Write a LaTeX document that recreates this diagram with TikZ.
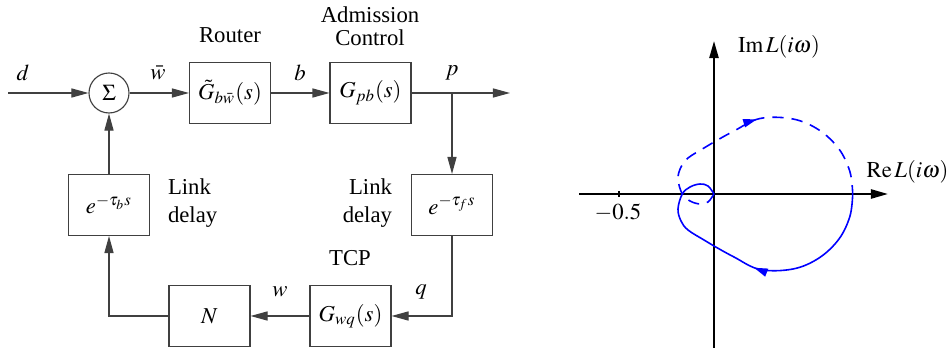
\documentclass[tikz,border=0pt]{standalone}
\usepackage{mathptmx}
\usepackage[no-math]{fontspec}
\setmainfont{Liberation Serif}
\usepackage{tikz}
\usetikzlibrary{arrows.meta,calc,positioning,decorations.markings}

\begin{document}
\begin{tikzpicture}[
  x=0.44pt, y=-0.44pt,
  blk/.style={draw=black!75, line width=0.5pt, minimum width=35.6pt, minimum height=26.8pt, inner sep=1pt},
  sumnode/.style={draw=black!75, line width=0.5pt, circle, minimum size=17.6pt, inner sep=0pt},
  sig/.style={draw=black!75, line width=0.5pt, -{Triangle[length=7.5pt, width=4pt]}},
  axis/.style={line width=0.9pt, -{Triangle[length=7.5pt, width=4pt]}},
  nyq/.style={blue, line width=0.7pt}
]
\useasboundingbox (0,0) rectangle (952,352);

% 方框
\node[sumnode] (sum) at (109,93) {$\Sigma$};
\node[blk] (router) at (230,93) {$\tilde G_{b\bar w}(s)$};
\node[blk] (adm) at (370.5,93) {$G_{pb}(s)$};
\node[blk] (dr) at (452,205) {$e^{-\tau_f s}$};
\node[blk] (dl) at (109,205) {$e^{-\tau_b s}$};
\node[blk] (gwq) at (350.5,316) {$G_{wq}(s)$};
\node[blk] (N) at (209.5,316) {$N$};

% 端点
\coordinate (in) at (8,93);
\coordinate (br) at (452,93);
\coordinate (out) at (510,93);

% 信号线
\draw[sig] (in) -- (sum);
\draw[sig] (sum) -- (router);
\draw[sig] (router) -- (adm);
\draw[sig] (adm) -- (out);
\draw[sig] (br) -- (dr);
\draw[sig] (dr.south) |- (gwq.east);
\draw[sig] (gwq) -- (N);
\draw[sig] (N.west) -| (dl.south);
\draw[sig] (dl) -- (sum);

% 信号名
\node (ld) at (23,73) {$d$};
\node (lw) at (158,73) {$\bar w$};
\node (lb) at (300,73) {$b$};
\node (lp) at (452,73) {$p$};
\node (lwq) at (280,292) {$w$};
\node (lq) at (421,292) {$q$};

% 方框说明
\node (trouter) at (230,35) {Router};
\node[align=center] (tadm) at (370,26) {Admission\\[-2pt] Control};
\node[align=left, anchor=west] (tdl) at (160,203) {Link\\ delay};
\node[align=right, anchor=east] (tdr) at (400,203) {Link\\ delay};
\node (ttcp) at (350,258) {TCP};

% Nyquist 图
\begin{scope}[shift={(714,194)}, yscale=-1]
  \coordinate (O) at (0,0);
  \draw[axis] (-135,0) coordinate (xl) -- (174,0) coordinate (xr);
  \draw[axis] (0,-154) coordinate (yb) -- (0,153) coordinate (yt);
  \draw[line width=0.5pt] (-95,-3) -- (-95,3);
  \node (tick) at (-96,-19) {$-0.5$};
  \node[anchor=west] (lim) at (16,147) {$\mathrm{Im}\,L(i\omega)$};
  \node[anchor=east, inner sep=0pt] (lre) at (235,22) {$\mathrm{Re}\,L(i\omega)$};

  % 正频率
  \draw[nyq, postaction={decorate}, decoration={markings,
      mark=at position 0.48 with {\arrow{Triangle[length=6pt, width=3.6pt]}}}]
    plot[smooth, tension=0.6] coordinates {(138.7,0) (136,-22) (125,-45) (105,-64)
      (79,-75) (46,-75.5) (20,-63) (0,-52) (-10,-46) (-26,-36) (-33,-27)
      (-36,-15) (-31.7,0) (-24,7) (-14,10) (-6,8) (0,0)};

  % 负频率
  \draw[nyq, dash pattern=on 5pt off 3.5pt, postaction={decorate}, decoration={markings,
      mark=at position 0.53 with {\arrow{Triangle[length=6pt, width=3.6pt]}}}]
    plot[smooth, tension=0.6] coordinates {(0,0) (-6,-8) (-14,-10) (-24,-7)
      (-31.7,0) (-36,15) (-33,27) (-26,36) (-10,46) (0,52) (20,63) (46,75.5)
      (79,75) (105,64) (125,45) (136,22) (138.7,0)};
\end{scope}

\end{tikzpicture}
\end{document}
